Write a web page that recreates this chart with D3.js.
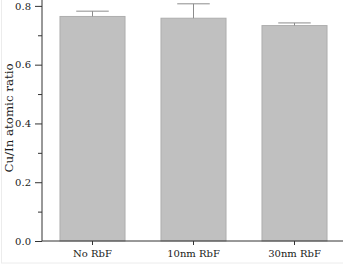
<!DOCTYPE html>
<html>
<head>
<meta charset="utf-8">
<script src="https://cdn.jsdelivr.net/npm/d3@7"></script>
<style>
  body { margin: 0; background: #fff; }
  svg text { font-family: "DejaVu Serif", serif; fill: #1a1a1a; }
</style>
</head>
<body>
<div id="chart"></div>
<script>
// data
const categories = ['No RbF', '10nm RbF', '30nm RbF'];
const ratios = [0.764, 0.758, 0.733];
const errors = [0.018, 0.049, 0.009];
const yTicks = [0, 0.2, 0.4, 0.6, 0.8];
const yMinorTicks = [0.1, 0.3, 0.5, 0.7];

const width = 343, height = 266;
const margin = { left: 42, top: 0, bottom: 25, right: 0 };

const svg = d3.select('#chart').append('svg')
    .attr('width', width)
    .attr('height', height);

// faint frame around the picture
svg.append('rect')
    .attr('x', 1.5).attr('y', -2)
    .attr('width', width).attr('height', 265)
    .attr('fill', 'none')
    .attr('stroke', '#ececec');

const x = d3.scaleBand()
    .domain(categories)
    .range([margin.left, 345])
    .paddingInner(0.356)
    .paddingOuter(0.178);

const y = d3.scaleLinear()
    .domain([0, 0.82])
    .range([241, 0]);

// bars
svg.selectAll('.bar')
    .data(categories)
    .join('rect')
    .attr('class', 'bar')
    .attr('x', d => x(d))
    .attr('y', (d, i) => y(ratios[i]))
    .attr('width', x.bandwidth())
    .attr('height', (d, i) => y(0) - y(ratios[i]))
    .attr('fill', '#c0c0c0')
    .attr('stroke', '#adadad')
    .attr('stroke-width', 1);

// upper error whiskers
const err = svg.selectAll('.err')
    .data(categories)
    .join('g')
    .attr('class', 'err')
    .attr('stroke', '#8c8c8c')
    .attr('stroke-width', 1);

err.append('line')
    .attr('x1', d => x(d) + x.bandwidth() / 2)
    .attr('x2', d => x(d) + x.bandwidth() / 2)
    .attr('y1', (d, i) => y(ratios[i]))
    .attr('y2', (d, i) => y(ratios[i] + errors[i]));

err.append('line')
    .attr('x1', d => x(d) + x.bandwidth() / 4)
    .attr('x2', d => x(d) + x.bandwidth() * 3 / 4)
    .attr('y1', (d, i) => y(ratios[i] + errors[i]))
    .attr('y2', (d, i) => y(ratios[i] + errors[i]));

// y axis with minor ticks
svg.append('g')
    .attr('transform', `translate(${margin.left},0)`)
    .call(d3.axisLeft(y).tickValues(yMinorTicks).tickSize(4).tickFormat(''))
    .call(g => g.select('.domain').remove())
    .selectAll('line').attr('stroke', '#333');

const yAxis = svg.append('g')
    .attr('transform', `translate(${margin.left},0)`)
    .call(d3.axisLeft(y).tickValues(yTicks).tickSize(7).tickPadding(4).tickFormat(d3.format('.1f')));
yAxis.select('.domain').attr('stroke', '#333').attr('d', `M0,${y(0)}V0`);
yAxis.selectAll('.tick line').attr('stroke', '#333');
yAxis.selectAll('text').attr('font-size', 10).style('fill', '#1a1a1a');

// x axis
const xAxis = svg.append('g')
    .attr('transform', `translate(0,${y(0)})`)
    .call(d3.axisBottom(x).tickSize(4).tickPadding(5));
xAxis.select('.domain').attr('stroke', '#333').attr('d', `M${margin.left},0H${width}`);
xAxis.selectAll('.tick line').attr('stroke', '#333');
xAxis.selectAll('text').attr('font-size', 10).style('fill', '#1a1a1a');

// y label
svg.append('text')
    .attr('transform', 'translate(9,118) rotate(-90)')
    .attr('text-anchor', 'middle')
    .attr('dy', '0.35em')
    .attr('font-size', 11.8)
    .text('Cu/In atomic ratio');
</script>
</body>
</html>
